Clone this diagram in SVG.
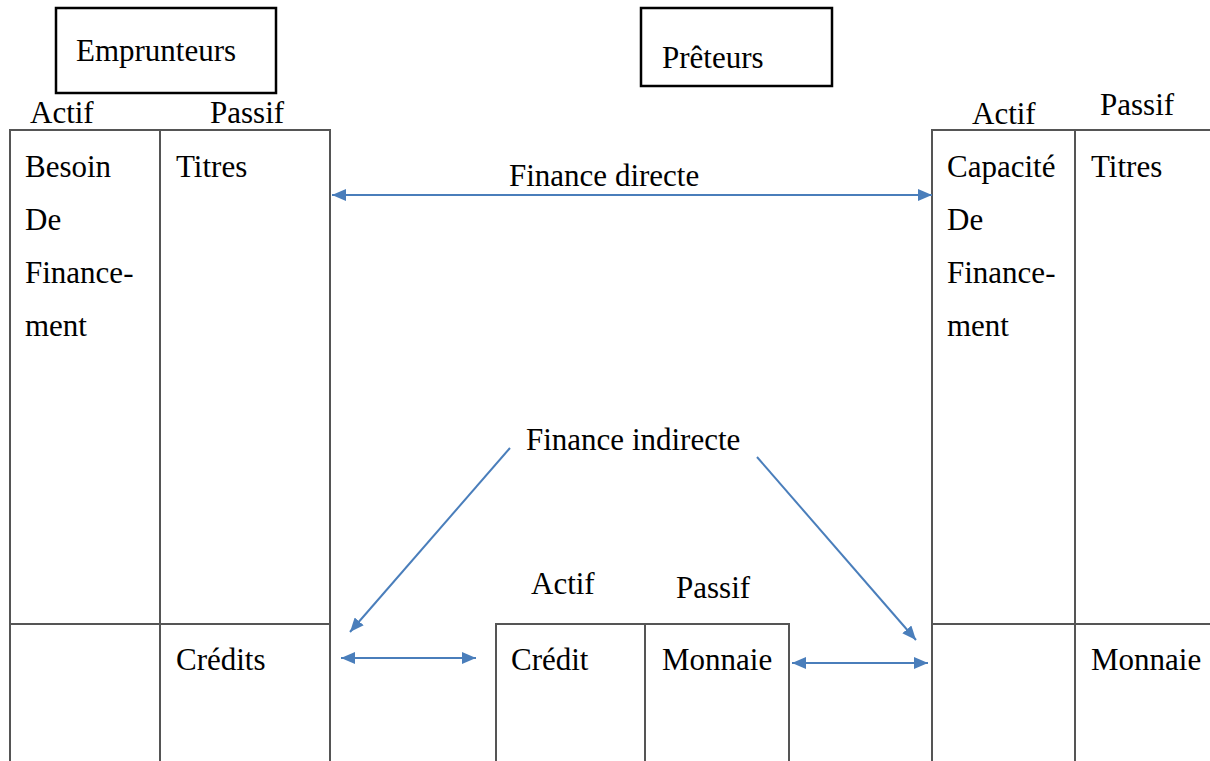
<svg xmlns="http://www.w3.org/2000/svg" width="1210" height="761" viewBox="0 0 1210 761">
<defs>
<marker id="ah" viewBox="0 0 14 12" refX="14" refY="6" markerWidth="14" markerHeight="12" markerUnits="userSpaceOnUse" orient="auto">
<path d="M0,0 L14,6 L0,12 Z" fill="#4a7ebb"/>
</marker>
<marker id="ahs" viewBox="0 0 14 12" refX="0" refY="6" markerWidth="14" markerHeight="12" markerUnits="userSpaceOnUse" orient="auto">
<path d="M14,0 L0,6 L14,12 Z" fill="#4a7ebb"/>
</marker>
</defs>
<rect width="1210" height="761" fill="#fff"/>

<g font-family="Liberation Serif" font-size="31" fill="#000">
<g id="emprunteurs">
<rect x="56" y="8" width="220" height="85" fill="#fff" stroke="#000" stroke-width="2.5"/>
<text x="76" y="61">Emprunteurs</text>
</g>

<g id="preteurs">
<rect x="641" y="8" width="191" height="78" fill="#fff" stroke="#000" stroke-width="2.5"/>
<text x="662" y="68">Prêteurs</text>
</g>

<g id="bilan-emprunteurs">
<text x="30" y="123">Actif</text>
<text x="210" y="123">Passif</text>
<path d="M10,761 V130 H330 V761 M160,130 V761 M10,624 H330" fill="none" stroke="#555" stroke-width="2"/>
<text x="25" y="177">Besoin</text>
<text x="25" y="230">De</text>
<text x="25" y="283">Finance-</text>
<text x="25" y="336">ment</text>
<text x="176" y="177">Titres</text>
<text x="176" y="670">Crédits</text>
</g>

<g id="bilan-preteurs">
<text x="972" y="124">Actif</text>
<text x="1100" y="115">Passif</text>
<path d="M932,761 V130 H1212 M1075,130 V761 M932,624 H1212" fill="none" stroke="#555" stroke-width="2"/>
<text x="947" y="177">Capacité</text>
<text x="947" y="230">De</text>
<text x="947" y="283">Finance-</text>
<text x="947" y="336">ment</text>
<text x="1091" y="177">Titres</text>
<text x="1091" y="670">Monnaie</text>
</g>

<g id="bilan-intermediaire">
<text x="531" y="594">Actif</text>
<text x="676" y="598">Passif</text>
<path d="M496,761 V624 H789 V761 M645,624 V761" fill="none" stroke="#555" stroke-width="2"/>
<text x="511" y="670">Crédit</text>
<text x="662" y="670">Monnaie</text>
</g>

<g id="labels">
<text x="509" y="186">Finance directe</text>
<text x="526" y="450">Finance indirecte</text>
</g>
</g>

<g id="connectors" stroke="#4a7ebb" stroke-width="2" fill="none">
<line x1="332" y1="195" x2="932" y2="195" marker-start="url(#ahs)" marker-end="url(#ah)"/>
<line x1="510" y1="448" x2="350" y2="632" marker-end="url(#ah)"/>
<line x1="757" y1="457" x2="916" y2="640" marker-end="url(#ah)"/>
<line x1="341" y1="658" x2="476" y2="658" marker-start="url(#ahs)" marker-end="url(#ah)"/>
<line x1="792" y1="663" x2="928" y2="663" marker-start="url(#ahs)" marker-end="url(#ah)"/>
</g>
</svg>
